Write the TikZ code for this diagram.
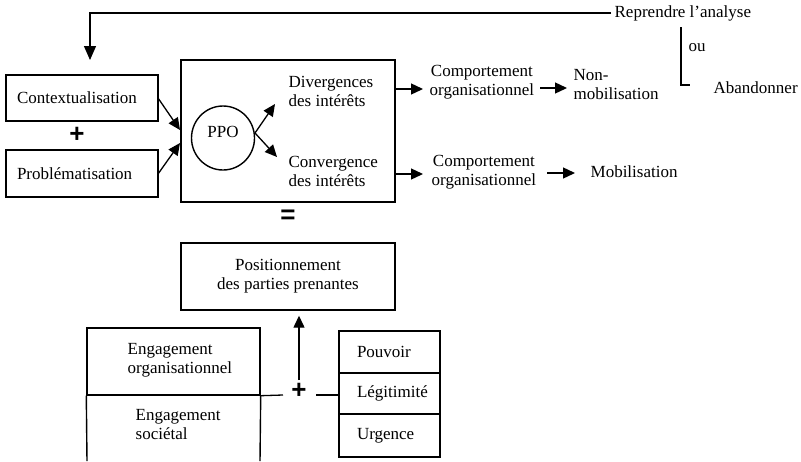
\documentclass[tikz,border=0pt]{standalone}
\usepackage{fontspec}
\setmainfont{Liberation Serif}
\newfontfamily\signfont{Liberation Sans}
\usetikzlibrary{arrows.meta,shapes.geometric}
\begin{document}
\begin{tikzpicture}[x=1pt,y=-1pt,
  font=\fontsize{17}{19}\selectfont,
  every path/.style={line width=1.3pt},
  box/.style={draw, line width=1.4pt, inner sep=0pt},
  txt/.style={inner sep=1pt, align=left},
  sign/.style={inner sep=1pt, font=\signfont\bfseries\fontsize{26}{26}\selectfont},
  arr/.style={-{Triangle[length=12pt,width=11pt]}},
  bigarr/.style={-{Triangle[length=14pt,width=12pt]}}
]
\useasboundingbox (0,0) rectangle (801,461);

% left boxes
\node[box, minimum width=152pt, minimum height=46pt, text width=130pt, inner xsep=11pt, align=left] (ctx) at (82,98) {Contextualisation};
\node[sign] (plus1) at (77,135) {+};
\node[box, minimum width=152pt, minimum height=47pt, text width=130pt, inner xsep=11pt, align=left] (prob) at (82,173.5) {Problématisation};

% main box
\node[box, minimum width=214pt, minimum height=142pt] (main) at (288,131) {};
\node[draw, ellipse, line width=1.4pt, minimum width=63pt, minimum height=64pt, inner sep=0pt] (ppo) at (223,138) {};
\node[inner sep=0pt] (ppotxt) at (223,132) {PPO};
\node[txt, anchor=west] (div) at (287,91.5) {Divergences\\des intérêts};
\node[txt, anchor=west] (conv) at (287,171) {Convergence\\des intérêts};

\coordinate (ppoR) at (255,133);
\coordinate (tipD) at (275,104);
\coordinate (tipC) at (277,157);
\draw[arr] (ppoR) -- (tipD);
\draw[arr] (ppoR) -- (tipC);

\coordinate (ctxA) at (158,98);
\coordinate (ctxT) at (180,130);
\coordinate (probA) at (158,174);
\coordinate (probT) at (180,143);
\draw[arr] (ctxA) -- (ctxT);
\draw[arr] (probA) -- (probT);

% right side outcomes
\node[txt, anchor=west, align=center] (comp1) at (428,82) {Comportement\\organisationnel};
\node[txt, anchor=west] (nonmob) at (572,85) {Non-\\mobilisation};
\node[txt, anchor=west, align=center] (comp2) at (430,172) {Comportement\\organisationnel};
\node[txt, anchor=west] (mob) at (589,172) {Mobilisation};

\coordinate (c1) at (423,89);
\coordinate (c2) at (423,174);
\draw[arr] (main.east |- c1) -- (c1);
\draw[arr] (main.east |- c2) -- (c2);
\coordinate (n1a) at (540,88);
\coordinate (n1b) at (567,88);
\coordinate (m1a) at (547,173);
\coordinate (m1b) at (575,173);
\draw[arr] (n1a) -- (n1b);
\draw[arr] (m1a) -- (m1b);

% feedback
\node[txt, anchor=west, inner sep=3pt] (rep) at (611,13) {Reprendre l’analyse};
\node[txt, anchor=west] (ou) at (687,48) {ou};
\node[txt, anchor=west] (aban) at (712,88) {Abandonner};
\coordinate (fb) at (90,60);
\draw[bigarr] (rep.west) -| (fb);
\coordinate (ou1) at (681,27);
\coordinate (ou2) at (690,85);
\draw (ou1) |- (ou2);

% equals
\node[sign] (eq) at (288,217) {=};

% positionnement
\node[box, minimum width=214pt, minimum height=67pt, align=center] (pos) at (288,276.5) {Positionnement\\des parties prenantes};

% engagement
\node[box, minimum width=173pt, minimum height=67pt] (eng1) at (173.5,361.5) {};
\node[txt, anchor=west] (eng1t) at (126,360) {Engagement\\organisationnel};
\node[txt, anchor=west] (eng2t) at (134,425) {Engagement\\sociétal};
\coordinate (engBL) at (87,461);
\coordinate (engBR) at (260,461);
\draw[line width=1.4pt] (eng1.south west) -- (engBL);
\draw[line width=1.4pt] (eng1.south east) -- (engBR);

% right attributes
\node[box, minimum width=101pt, minimum height=42pt, text width=65pt, inner xsep=18pt, align=left] (pouv) at (389.5,352) {Pouvoir};
\node[box, minimum width=101pt, minimum height=41pt, text width=65pt, inner xsep=18pt, align=left] (legit) at (389.5,393.5) {Légitimité};
\node[box, minimum width=101pt, minimum height=43pt, text width=65pt, inner xsep=18pt, align=left] (urg) at (389.5,435.5) {Urgence};

% plus connector
\node[sign] (plus2) at (299,391) {+};
\coordinate (p2l) at (283,395);
\coordinate (p2r) at (316,395);
\draw (eng1.south east) -- (p2l);
\draw (p2r) -- (legit.west |- p2r);
\coordinate (upA) at (299,380);
\draw[arr, shorten >=5pt] (upA) -- (upA |- pos.south);
\end{tikzpicture}
\end{document}
